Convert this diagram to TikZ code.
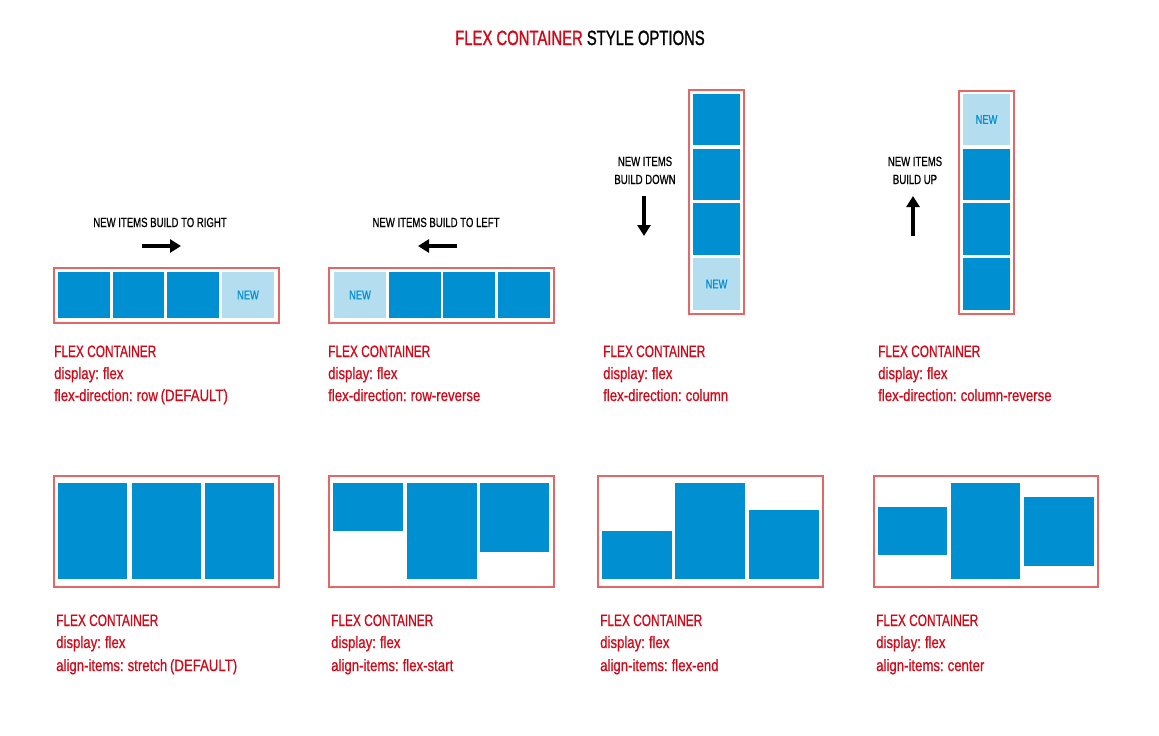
\documentclass[tikz,border=0pt]{standalone}
\usepackage{fontspec}
\setmainfont{Liberation Sans}[FakeStretch=0.72, FakeBold=0.7]
\newfontfamily\widerfont{Liberation Sans}[FakeStretch=0.8, FakeBold=0.7, WordSpace=0.75]
\newfontfamily\titlefont{Liberation Sans}[FakeStretch=0.72, FakeBold=1.2]
\usetikzlibrary{fit,arrows.meta}
\definecolor{cred}{RGB}{210,8,24}
\definecolor{cborder}{RGB}{226,104,104}
\definecolor{cblue}{RGB}{0,143,209}
\definecolor{clight}{RGB}{180,221,240}
\tikzset{
  box/.style={draw=cborder, line width=2pt, inner sep=0pt},
  item/.style={fill=cblue, inner sep=0pt},
  newitem/.style={fill=clight, inner sep=0pt, label={[text=cblue, inner sep=0pt, font=\fontsize{12.9}{14}\selectfont]center:NEW}},
  lbl/.style={anchor=base west, inner sep=0pt, text=cred, font=\fontsize{16.5}{18}\selectfont},
  lbltwo/.style={anchor=base west, inner sep=0pt, text=cred, font=\widerfont\fontsize{16.5}{18}\selectfont},
  hint/.style={anchor=base, inner sep=0pt, font=\fontsize{13.3}{15}\selectfont},
  bigarrow/.style={line width=4pt, -{Triangle[width=13pt,length=11pt]}},
}
\begin{document}
\begin{tikzpicture}[x=1pt,y=-1pt]
\useasboundingbox (0,0) rectangle (1159,736);
\node[anchor=base, inner sep=0pt, font=\titlefont\fontsize{20.6}{22}\selectfont] (title) at (580,45) {\textcolor{cred}{FLEX CONTAINER} STYLE OPTIONS};

% ---------- Row 1 ----------
% panel 1
\node[hint] (h1) at (160,227) {NEW ITEMS BUILD TO RIGHT};
\coordinate (a1s) at (142,246); \coordinate (a1e) at (181,246);
\draw[bigarrow] (a1s) -- (a1e);
\node[box, fit={(54,268)(279,323)}] (c1) {};
\node[item, fit={(58,272)(110,318)}] (c1a) {};
\node[item, fit={(113,272)(164,318)}] (c1b) {};
\node[item, fit={(167,272)(219,318)}] (c1c) {};
\node[newitem, fit={(222,272)(274,318)}] (c1d) {};
\node[lbl] (l1a) at (54,357) {FLEX CONTAINER};
\node[lbltwo] (l1b) at (54,379) {display: flex};
\node[lbltwo] (l1c) at (54,401) {flex-direction: row (DEFAULT)};

% panel 2
\node[hint] (h2) at (436,227) {NEW ITEMS BUILD TO LEFT};
\coordinate (a2s) at (457,246); \coordinate (a2e) at (418,246);
\draw[bigarrow] (a2s) -- (a2e);
\node[box, fit={(329,268)(554,323)}] (c2) {};
\node[newitem, fit={(334,272)(386,318)}] (c2a) {};
\node[item, fit={(389,272)(441,318)}] (c2b) {};
\node[item, fit={(443,272)(495,318)}] (c2c) {};
\node[item, fit={(498,272)(550,318)}] (c2d) {};
\node[lbl] (l2a) at (328,357) {FLEX CONTAINER};
\node[lbltwo] (l2b) at (328,379) {display: flex};
\node[lbltwo] (l2c) at (328,401) {flex-direction: row-reverse};

% panel 3
\node[hint] (h3a) at (645,166) {NEW ITEMS};
\node[hint] (h3b) at (645,184) {BUILD DOWN};
\coordinate (a3s) at (644,196); \coordinate (a3e) at (644,236);
\draw[bigarrow] (a3s) -- (a3e);
\node[box, fit={(689,90)(744,314)}] (c3) {};
\node[item, fit={(693,94)(740,145)}] (c3a) {};
\node[item, fit={(693,149)(740,200)}] (c3b) {};
\node[item, fit={(693,203)(740,255)}] (c3c) {};
\node[newitem, fit={(693,258)(740,310)}] (c3d) {};
\node[lbl] (l3a) at (603,357) {FLEX CONTAINER};
\node[lbltwo] (l3b) at (603,379) {display: flex};
\node[lbltwo] (l3c) at (603,401) {flex-direction: column};

% panel 4
\node[hint] (h4a) at (915,166) {NEW ITEMS};
\node[hint] (h4b) at (915,184) {BUILD UP};
\coordinate (a4s) at (913,236); \coordinate (a4e) at (913,196);
\draw[bigarrow] (a4s) -- (a4e);
\node[box, fit={(959,91)(1014,314)}] (c4) {};
\node[newitem, fit={(963,94)(1010,145)}] (c4a) {};
\node[item, fit={(963,149)(1010,200)}] (c4b) {};
\node[item, fit={(963,203)(1010,255)}] (c4c) {};
\node[item, fit={(963,258)(1010,310)}] (c4d) {};
\node[lbl] (l4a) at (878,357) {FLEX CONTAINER};
\node[lbltwo] (l4b) at (878,379) {display: flex};
\node[lbltwo] (l4c) at (878,401) {flex-direction: column-reverse};

% ---------- Row 2 ----------
% panel 5
\node[box, fit={(54,476)(279,587)}] (c5) {};
\node[item, fit={(58,483)(127,579)}] (c5a) {};
\node[item, fit={(132,483)(201,579)}] (c5b) {};
\node[item, fit={(205,483)(274,579)}] (c5c) {};
\node[lbl] (l5a) at (56,626) {FLEX CONTAINER};
\node[lbltwo] (l5b) at (56,648) {display: flex};
\node[lbltwo] (l5c) at (56,671) {align-items: stretch (DEFAULT)};

% panel 6
\node[box, fit={(329,476)(554,587)}] (c6) {};
\node[item, fit={(333,483)(403,531)}] (c6a) {};
\node[item, fit={(407,483)(477,579)}] (c6b) {};
\node[item, fit={(480,483)(549,552)}] (c6c) {};
\node[lbl] (l6a) at (331,626) {FLEX CONTAINER};
\node[lbltwo] (l6b) at (331,648) {display: flex};
\node[lbltwo] (l6c) at (331,671) {align-items: flex-start};

% panel 7
\node[box, fit={(598,476)(823,587)}] (c7) {};
\node[item, fit={(602,531)(672,579)}] (c7a) {};
\node[item, fit={(675,483)(745,579)}] (c7b) {};
\node[item, fit={(749,510)(819,579)}] (c7c) {};
\node[lbl] (l7a) at (600,626) {FLEX CONTAINER};
\node[lbltwo] (l7b) at (600,648) {display: flex};
\node[lbltwo] (l7c) at (600,671) {align-items: flex-end};

% panel 8
\node[box, fit={(874,476)(1098,587)}] (c8) {};
\node[item, fit={(878,507)(947,555)}] (c8a) {};
\node[item, fit={(951,483)(1020,579)}] (c8b) {};
\node[item, fit={(1024,497)(1094,566)}] (c8c) {};
\node[lbl] (l8a) at (876,626) {FLEX CONTAINER};
\node[lbltwo] (l8b) at (876,648) {display: flex};
\node[lbltwo] (l8c) at (876,671) {align-items: center};
\end{tikzpicture}
\end{document}
